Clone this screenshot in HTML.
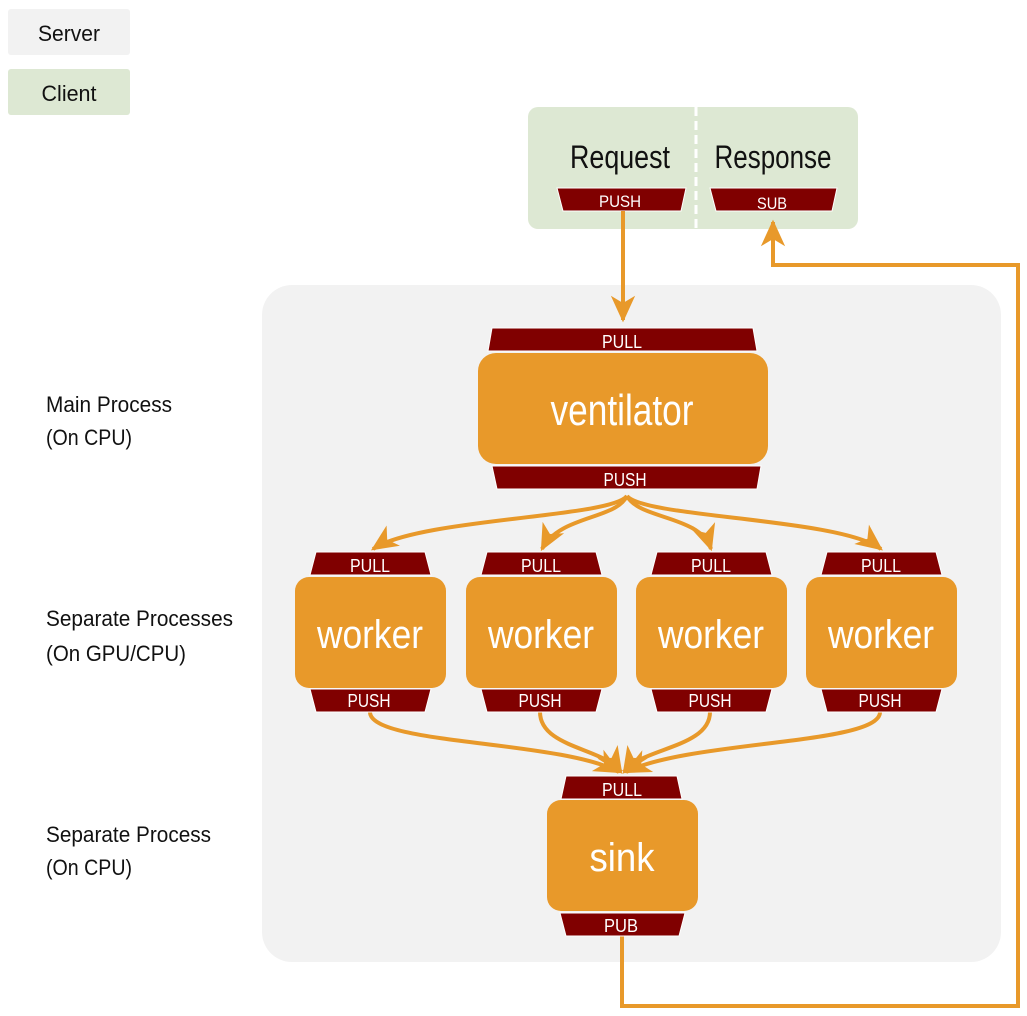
<!DOCTYPE html>
<html><head><meta charset="utf-8"><style>
html,body{margin:0;padding:0;background:#fff;}
svg{display:block;}
text{font-family:"Liberation Sans Narrow","Liberation Sans",sans-serif;}
</style></head><body>
<svg width="1027" height="1016" viewBox="0 0 1027 1016" xmlns="http://www.w3.org/2000/svg">
<defs>
<marker id="ah" markerUnits="userSpaceOnUse" markerWidth="34" markerHeight="34" viewBox="-24 -12 28 24" refX="0" refY="0" orient="auto">
<path d="M2,0 L-20,-10 L-14,0 L-20,10 Z" fill="#e8992a"/>
</marker>
</defs>
<rect x="8" y="9" width="122" height="46" rx="3" fill="#f2f2f2"/>
<text x="69" y="41" font-size="22" text-anchor="middle" fill="#111" textLength="62" lengthAdjust="spacingAndGlyphs">Server</text>
<rect x="8" y="69" width="122" height="46" rx="3" fill="#dde8d3"/>
<text x="69" y="101" font-size="22" text-anchor="middle" fill="#111" textLength="55" lengthAdjust="spacingAndGlyphs">Client</text>

<rect x="528" y="107" width="330" height="122" rx="10" fill="#dde8d3"/>
<line x1="696" y1="107" x2="696" y2="229" stroke="#fff" stroke-width="3" stroke-dasharray="9,5"/>
<text x="620" y="168" font-size="32" text-anchor="middle" fill="#111" textLength="100" lengthAdjust="spacingAndGlyphs">Request</text>
<text x="773" y="168" font-size="32" text-anchor="middle" fill="#111" textLength="117" lengthAdjust="spacingAndGlyphs">Response</text>
<polygon points="557,188 686,188 681,211 563,211" fill="#800000" stroke="#fff" stroke-width="1"/>
<text x="620" y="207" font-size="17" text-anchor="middle" fill="#fff" textLength="42" lengthAdjust="spacingAndGlyphs">PUSH</text>
<polygon points="710,188 837,188 832,211 716,211" fill="#800000" stroke="#fff" stroke-width="1"/>
<text x="772" y="209" font-size="17" text-anchor="middle" fill="#fff" textLength="30" lengthAdjust="spacingAndGlyphs">SUB</text>

<rect x="262" y="285" width="739" height="677" rx="30" fill="#f2f2f2"/>

<g font-size="22" fill="#111">
<text x="46" y="412" textLength="126" lengthAdjust="spacingAndGlyphs">Main Process</text>
<text x="46" y="445" textLength="86" lengthAdjust="spacingAndGlyphs">(On CPU)</text>
<text x="46" y="626" textLength="187" lengthAdjust="spacingAndGlyphs">Separate Processes</text>
<text x="46" y="661" textLength="140" lengthAdjust="spacingAndGlyphs">(On GPU/CPU)</text>
<text x="46" y="842" textLength="165" lengthAdjust="spacingAndGlyphs">Separate Process</text>
<text x="46" y="875" textLength="86" lengthAdjust="spacingAndGlyphs">(On CPU)</text>
</g>

<g fill="none" stroke="#e8992a" stroke-width="4">
<path d="M623,211 L623,320" marker-end="url(#ah)"/>
<path d="M627,496 C610,518 420,518 373,549" marker-end="url(#ah)"/>
<path d="M627,496 C615,520 560,515 542,549" marker-end="url(#ah)"/>
<path d="M627,496 C640,520 700,515 711,549" marker-end="url(#ah)"/>
<path d="M627,496 C645,518 840,518 881,549" marker-end="url(#ah)"/>
<path d="M370,712 C370,745 560,740 619,772" marker-end="url(#ah)"/>
<path d="M540,712 C540,748 605,748 621,772" marker-end="url(#ah)"/>
<path d="M710,712 C710,748 640,748 624,772" marker-end="url(#ah)"/>
<path d="M880,712 C880,745 690,740 626,772" marker-end="url(#ah)"/>
<path d="M622,936 L622,1006 L1018,1006 L1018,265 L773,265 L773,222" marker-end="url(#ah)"/>
</g>

<polygon points="492,328 753,328 757,351 488,351" fill="#800000" stroke="#fff" stroke-width="1"/>
<text x="622" y="348" font-size="18" text-anchor="middle" fill="#fff" textLength="40" lengthAdjust="spacingAndGlyphs">PULL</text>
<rect x="478" y="353" width="290" height="111" rx="18" fill="#e8992a"/>
<text x="622" y="425" font-size="44" text-anchor="middle" fill="#fff" textLength="143" lengthAdjust="spacingAndGlyphs">ventilator</text>
<polygon points="492,466 761,466 757,489 497,489" fill="#800000" stroke="#fff" stroke-width="1"/>
<text x="625" y="486" font-size="18" text-anchor="middle" fill="#fff" textLength="43" lengthAdjust="spacingAndGlyphs">PUSH</text>

<g>
<polygon points="316,552 425,552 431,575 310,575" fill="#800000" stroke="#fff" stroke-width="1"/>
<text x="370" y="572" font-size="18" text-anchor="middle" fill="#fff" textLength="40" lengthAdjust="spacingAndGlyphs">PULL</text>
<rect x="295" y="577" width="151" height="111" rx="14" fill="#e8992a"/>
<text x="370" y="648" font-size="40" text-anchor="middle" fill="#fff" textLength="106" lengthAdjust="spacingAndGlyphs">worker</text>
<polygon points="310,689 431,689 425,712 316,712" fill="#800000" stroke="#fff" stroke-width="1"/>
<text x="369" y="707" font-size="18" text-anchor="middle" fill="#fff" textLength="43" lengthAdjust="spacingAndGlyphs">PUSH</text>
</g>
<g transform="translate(171,0)">
<polygon points="316,552 425,552 431,575 310,575" fill="#800000" stroke="#fff" stroke-width="1"/>
<text x="370" y="572" font-size="18" text-anchor="middle" fill="#fff" textLength="40" lengthAdjust="spacingAndGlyphs">PULL</text>
<rect x="295" y="577" width="151" height="111" rx="14" fill="#e8992a"/>
<text x="370" y="648" font-size="40" text-anchor="middle" fill="#fff" textLength="106" lengthAdjust="spacingAndGlyphs">worker</text>
<polygon points="310,689 431,689 425,712 316,712" fill="#800000" stroke="#fff" stroke-width="1"/>
<text x="369" y="707" font-size="18" text-anchor="middle" fill="#fff" textLength="43" lengthAdjust="spacingAndGlyphs">PUSH</text>
</g>
<g transform="translate(341,0)">
<polygon points="316,552 425,552 431,575 310,575" fill="#800000" stroke="#fff" stroke-width="1"/>
<text x="370" y="572" font-size="18" text-anchor="middle" fill="#fff" textLength="40" lengthAdjust="spacingAndGlyphs">PULL</text>
<rect x="295" y="577" width="151" height="111" rx="14" fill="#e8992a"/>
<text x="370" y="648" font-size="40" text-anchor="middle" fill="#fff" textLength="106" lengthAdjust="spacingAndGlyphs">worker</text>
<polygon points="310,689 431,689 425,712 316,712" fill="#800000" stroke="#fff" stroke-width="1"/>
<text x="369" y="707" font-size="18" text-anchor="middle" fill="#fff" textLength="43" lengthAdjust="spacingAndGlyphs">PUSH</text>
</g>
<g transform="translate(511,0)">
<polygon points="316,552 425,552 431,575 310,575" fill="#800000" stroke="#fff" stroke-width="1"/>
<text x="370" y="572" font-size="18" text-anchor="middle" fill="#fff" textLength="40" lengthAdjust="spacingAndGlyphs">PULL</text>
<rect x="295" y="577" width="151" height="111" rx="14" fill="#e8992a"/>
<text x="370" y="648" font-size="40" text-anchor="middle" fill="#fff" textLength="106" lengthAdjust="spacingAndGlyphs">worker</text>
<polygon points="310,689 431,689 425,712 316,712" fill="#800000" stroke="#fff" stroke-width="1"/>
<text x="369" y="707" font-size="18" text-anchor="middle" fill="#fff" textLength="43" lengthAdjust="spacingAndGlyphs">PUSH</text>
</g>

<polygon points="566,776 677,776 682,799 561,799" fill="#800000" stroke="#fff" stroke-width="1"/>
<text x="622" y="796" font-size="18" text-anchor="middle" fill="#fff" textLength="40" lengthAdjust="spacingAndGlyphs">PULL</text>
<rect x="547" y="800" width="151" height="111" rx="14" fill="#e8992a"/>
<text x="622" y="871" font-size="40" text-anchor="middle" fill="#fff" textLength="65" lengthAdjust="spacingAndGlyphs">sink</text>
<polygon points="560,913 685,913 679,936 566,936" fill="#800000" stroke="#fff" stroke-width="1"/>
<text x="621" y="932" font-size="18" text-anchor="middle" fill="#fff" textLength="34" lengthAdjust="spacingAndGlyphs">PUB</text>
</svg>
</body></html>
